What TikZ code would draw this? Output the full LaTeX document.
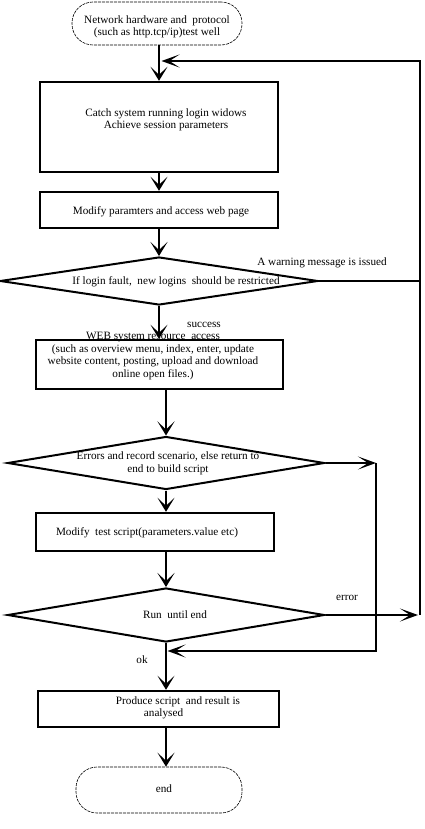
\documentclass[tikz,border=0pt]{standalone}
\usepackage{fontspec}
\setmainfont{Liberation Serif}
\usetikzlibrary{shapes.geometric,arrows.meta,calc}
\begin{document}
\begin{tikzpicture}[x=1pt,y=-1pt,
  txt/.style={inner sep=0pt,font=\fontsize{11.2}{12.4}\selectfont,align=center},
  boxnode/.style={draw,line width=2.4pt,inner sep=0pt},
  dia/.style={draw,diamond,line width=2pt,inner sep=0pt},
  ovalnode/.style={draw,line width=0.6pt,dash pattern=on 3pt off 1pt,rounded corners=21pt,inner sep=0pt},
  arr/.style={line width=2.8pt,-{Stealth[length=14pt,width=17pt,inset=8pt]}},
  harr/.style={line width=2.4pt,-{Stealth[length=18pt,width=13pt,inset=10pt]}},
  thinline/.style={line width=1.6pt}]
\useasboundingbox (0,0) rectangle (424,829);
% nodes
\node[ovalnode,minimum width=170pt,minimum height=43pt] (o1) at (157,23.5) {};
\node[txt] (o1t) at (157,27) {Network hardware and\ \ protocol\\(such as http.tcp/ip)test well};
\node[boxnode,minimum width=238pt,minimum height=90pt] (b1) at (159,127) {};
\node[txt] (b1t) at (166,120) {Catch system running login widows\\Achieve session parameters};
\node[boxnode,minimum width=238pt,minimum height=36pt] (b2) at (159,210) {};
\node[txt] (b2t) at (161,212) {Modify paramters and access web page};
\node[dia,minimum width=318pt,minimum height=48pt] (d1) at (159,281) {};
\node[txt] (d1t) at (176,282) {If login fault,\ \ new logins\ \ should be restricted};
\node[txt] (warn) at (322,263) {A warning message is issued};
\node[txt] (succ) at (204,325) {success};
\node[boxnode,minimum width=247pt,minimum height=49pt] (b3) at (159.5,364.5) {};
\node[txt] (b3t) at (153,356) {WEB system resource\ \ access\\(such as overview menu, index, enter, update\\website content, posting, upload and download\\online open files.)};
\node[dia,minimum width=317pt,minimum height=53pt] (d2) at (166,463) {};
\node[txt] (d2t) at (168,463.5) {Errors and record scenario, else return to\\end to build script};
\node[boxnode,minimum width=238pt,minimum height=38pt] (b4) at (155,532) {};
\node[txt] (b4t) at (147,533) {Modify\ \ test script(parameters.value etc)};
\node[dia,minimum width=317pt,minimum height=54pt] (d3) at (166,615) {};
\node[txt] (d3t) at (175,615) {Run\ \ until end};
\node[txt] (err) at (347,598) {error};
\node[txt] (ok) at (142,660) {ok};
\node[boxnode,minimum width=241pt,minimum height=36pt] (b5) at (158.5,709) {};
\node[txt,align=left] (b5t) at (178,708) {Produce script\ \ and result is\\\hspace*{28pt}analysed};
\node[ovalnode,minimum width=166pt,minimum height=46pt] (o2) at (159,790) {};
\node[txt] (o2t) at (164,789) {end};
% helper coordinates
\coordinate (rt) at (420,61);
\coordinate (r3) at (418,615);
\coordinate (r2) at (376,463);
\coordinate (r2b) at (376,651);
\coordinate (okin) at (167.5,651);
% main flow
\draw[arr] (o1.south -| b1.north) -- (b1.north);
\draw[arr] (b1.south) -- (b2.north);
\draw[arr] (b2.south) -- (d1.north);
\draw[arr] (d1.south) -- (d1.south |- b3.north);
\draw[arr] (b3.south -| d2.north) -- (d2.north);
\draw[arr] (d2.south) -- (d2.south |- b4.north);
\draw[arr] (b4.south -| d3.north) -- (d3.north);
\draw[arr] (d3.south) -- (d3.south |- b5.north);
\draw[arr] (b5.south -| d3.south) -- (o2.north -| d3.south);
% branches
\draw[thinline] (d1.east) -- (d1.east -| rt);
\draw[harr] (d3.east) -- (r3);
\draw[harr] (r3 -| rt) -- (rt) -- ($(b1.north |- rt)+(2.5,0)$);
\draw[harr] (d2.east) -- (r2);
\draw[harr] (r2) -- (r2b) -- (okin);
\end{tikzpicture}
\end{document}
